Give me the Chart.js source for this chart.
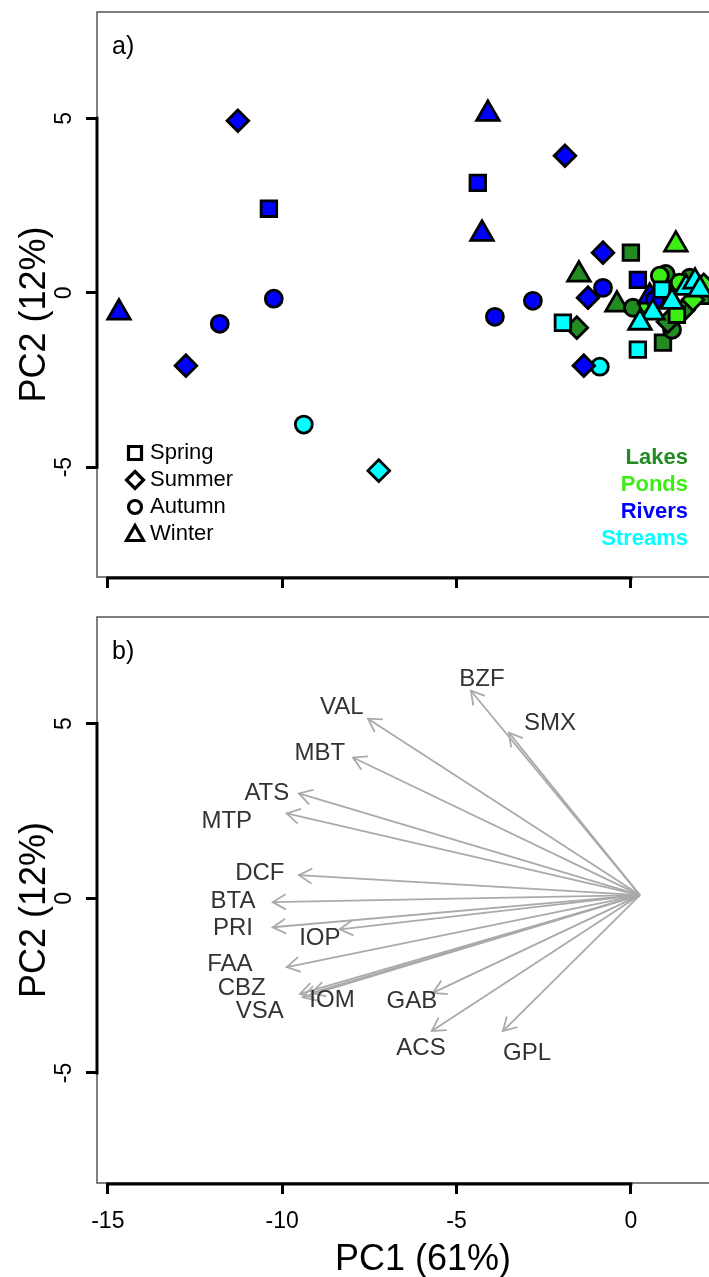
<!DOCTYPE html>
<html>
<head>
<meta charset="utf-8">
<script src="https://cdn.jsdelivr.net/npm/chart.js@4.4.1/dist/chart.umd.min.js"></script>
<style>
  html, body { margin: 0; padding: 0; background: #fff; overflow: hidden; }
  #top { position: absolute; left: 0; top: 0; }
  #bot { position: absolute; left: 0; top: 600px; }
</style>
</head>
<body>
<canvas id="top" width="709" height="600"></canvas>
<canvas id="bot" width="709" height="680"></canvas>
<script>
// axis ranges and ticks (same for both panels)
const xTicks = [-15, -10, -5, 0];
const yTicks = [-5, 0, 5];
const xRange = [-15.31, 2.24];
const yRange = [-8.15, 8.05];

// panel a) - sample scores
const habitat = [
  "Lakes", "Lakes", "Lakes", "Lakes", "Lakes", "Lakes", "Lakes", "Lakes", "Lakes", "Lakes", "Lakes", "Lakes",
  "Ponds", "Ponds", "Ponds", "Ponds", "Ponds", "Ponds", "Ponds",
  "Rivers", "Rivers", "Rivers", "Rivers", "Rivers", "Rivers", "Rivers", "Rivers", "Rivers", "Rivers",
  "Rivers", "Rivers", "Rivers", "Rivers", "Rivers", "Rivers", "Rivers", "Rivers",
  "Streams", "Streams", "Streams", "Streams", "Streams", "Streams", "Streams", "Streams", "Streams",
  "Streams", "Streams", "Streams",
  "Rivers"
];
const season = [
  "Spring", "Winter", "Winter", "Summer", "Spring", "Autumn", "Summer", "Autumn", "Autumn", "Autumn", "Spring", "Summer",
  "Winter", "Spring", "Autumn", "Autumn", "Summer", "Summer", "Autumn",
  "Winter", "Summer", "Spring", "Autumn", "Autumn", "Summer", "Winter", "Spring", "Winter", "Summer",
  "Autumn", "Autumn", "Summer", "Autumn", "Summer", "Spring", "Winter", "Autumn",
  "Autumn", "Summer", "Spring", "Autumn", "Spring", "Winter", "Winter", "Winter", "Winter",
  "Spring", "Winter", "Winter",
  "Summer"
];
const pc1 = [
  0.00, -1.49, -0.40, -1.55, 0.92, 1.18, 1.06, 0.06, 1.00, 1.69, 2.04, 1.52,
  1.29, 1.32, 0.83, 1.40, 1.78, 2.09, 0.49,
  -14.68, -11.27, -10.38, -10.24, -11.79, -12.76, -4.10, -4.39, -4.27, -1.89,
  -3.90, -2.81, -0.80, -0.80, -1.23, 0.20, 0.54, 0.69,
  -9.38, -7.23, -1.95, -0.89, 0.89, 1.58, 1.18, 0.63, 0.26,
  0.20, 1.84, 1.98,
  -1.35
];
const pc2 = [
  1.15, 0.52, -0.34, -1.00, -1.43, -1.06, -0.83, -0.43, 0.54, 0.43, -0.09, -0.49,
  1.38, -0.63, 0.49, 0.29, -0.20, 0.23, -0.34,
  -0.57, 4.93, 2.41, -0.17, -0.89, -2.09, 5.13, 3.15, 1.69, 3.93,
  -0.69, -0.23, 1.15, 0.14, -0.14, 0.37, -0.11, -0.20,
  -3.78, -5.10, -0.86, -2.12, 0.09, 0.14, -0.26, -0.57, -0.86,
  -1.63, 0.32, 0.09,
  -2.09
];

// panel b) - variable loadings
const loadNames = ["BZF", "SMX", "VAL", "MBT", "ATS", "MTP", "DCF", "BTA", "PRI", "IOP", "FAA", "CBZ", "VSA", "IOM", "GAB", "ACS", "GPL"];
const loadPC1 = [-4.59, -3.50, -7.54, -7.97, -9.52, -9.87, -9.52, -10.27, -10.27, -8.35, -9.87, -9.49, -9.41, -9.15, -5.68, -5.71, -3.67];
const loadPC2 = [5.94, 4.74, 5.14, 4.03, 3.00, 2.43, 0.66, -0.11, -0.83, -0.89, -1.97, -2.74, -2.83, -2.71, -2.71, -3.80, -3.80];
const labelPC1 = [-4.27, -2.32, -8.29, -8.92, -10.44, -11.59, -10.64, -11.41, -11.41, -8.92, -11.50, -11.16, -10.64, -8.57, -6.28, -6.02, -2.98];
const labelPC2 = [6.26, 5.00, 5.46, 4.14, 3.00, 2.20, 0.71, -0.09, -0.86, -1.14, -1.89, -2.57, -3.23, -2.91, -2.94, -4.29, -4.43];
const loadOrigin = [0.26, 0.09];

const habitatNames = ["Lakes", "Ponds", "Rivers", "Streams"];
const seasonNames = ["Spring", "Summer", "Autumn", "Winter"];

const FONT = '"Liberation Sans", Arial, sans-serif';
const habitatColor = { Lakes: "#228B22", Ponds: "#3CEE14", Rivers: "#0000FF", Streams: "#00FFFF" };
const seasonStyle = { Spring: "rect", Summer: "rectRot", Autumn: "circle", Winter: "triangle" };
const seasonRadius = { Spring: 11, Summer: 10.8, Autumn: 8.5, Winter: 13 };

function rScales(withXLabels, xAxisHeight, yTitle) {
  const tickGrid = { drawOnChartArea: false, drawTicks: true, tickLength: 11, color: "#000", tickColor: "#000", lineWidth: 3, tickWidth: 3 };
  return {
    x: {
      type: "linear", min: xRange[0], max: xRange[1],
      afterBuildTicks: s => { s.ticks = xTicks.map(v => ({ value: v })); },
      afterFit: s => { s.height = xAxisHeight; s.paddingLeft = 0; s.paddingRight = 0; },
      grid: tickGrid,
      border: { display: false },
      ticks: { display: withXLabels, padding: 14, color: "#000", autoSkip: false, maxRotation: 0,
               font: { family: FONT, size: 23 }, callback: v => String(v) },
      title: { display: withXLabels, text: "    PC1 (61%)", color: "#000", padding: 0,
               font: { family: FONT, size: 36, lineHeight: 1 } }
    },
    y: {
      type: "linear", min: yRange[0], max: yRange[1],
      afterBuildTicks: s => { s.ticks = yTicks.map(v => ({ value: v })); },
      afterFit: s => { s.width = 97; s.paddingTop = 0; s.paddingBottom = 0; },
      grid: tickGrid,
      border: { display: false },
      ticks: { padding: 11, color: "#000", minRotation: 90, maxRotation: 90, crossAlign: "center",
               font: { family: FONT, size: 23 }, callback: v => String(v) },
      title: { display: true, text: yTitle, color: "#000", padding: { top: 17, bottom: 0 },
               font: { family: FONT, size: 36, lineHeight: 1 } }
    }
  };
}

// frame, heavy axis lines, panel letter
const rFrame = {
  id: "rFrame",
  beforeDatasetsDraw(chart, args, opts) {
    const { ctx, chartArea: a, scales: { x, y } } = chart;
    ctx.save();
    ctx.strokeStyle = "#555";
    ctx.lineWidth = 1.5;
    ctx.beginPath();
    ctx.moveTo(a.right + 5, a.top);
    ctx.lineTo(a.left, a.top);
    ctx.lineTo(a.left, a.bottom);
    ctx.lineTo(a.right + 5, a.bottom);
    ctx.stroke();

    ctx.strokeStyle = "#000";
    ctx.lineWidth = 3;
    ctx.beginPath();
    ctx.moveTo(x.getPixelForValue(xTicks[0]) - 1.5, a.bottom + 1);
    ctx.lineTo(x.getPixelForValue(xTicks[xTicks.length - 1]) + 1.5, a.bottom + 1);
    ctx.moveTo(a.left, y.getPixelForValue(yTicks[0]) + 1.5);
    ctx.lineTo(a.left, y.getPixelForValue(yTicks[yTicks.length - 1]) - 1.5);
    ctx.stroke();

    ctx.fillStyle = "#000";
    ctx.font = "25px " + FONT;
    ctx.textAlign = "left";
    ctx.textBaseline = "middle";
    ctx.fillText(opts.letter, a.left + 15, a.top + 35);
    ctx.restore();
  }
};

function drawSymbol(ctx, style, x, y) {
  ctx.beginPath();
  if (style === "rect") {
    ctx.rect(x - 6.5, y - 6.5, 13, 13);
  } else if (style === "rectRot") {
    ctx.moveTo(x, y - 8.5); ctx.lineTo(x + 8.5, y); ctx.lineTo(x, y + 8.5); ctx.lineTo(x - 8.5, y); ctx.closePath();
  } else if (style === "circle") {
    ctx.arc(x, y, 6.5, 0, Math.PI * 2);
  } else {
    ctx.moveTo(x, y - 8.5); ctx.lineTo(x + 8.5, y + 6.5); ctx.lineTo(x - 8.5, y + 6.5); ctx.closePath();
  }
  ctx.stroke();
}

// legends of panel a)
const scoreLegends = {
  id: "scoreLegends",
  afterDatasetsDraw(chart) {
    const { ctx, chartArea: a } = chart;
    ctx.save();
    ctx.strokeStyle = "#000";
    ctx.lineWidth = 3.2;
    ctx.fillStyle = "#000";
    ctx.font = "22px " + FONT;
    ctx.textAlign = "left";
    ctx.textBaseline = "middle";
    seasonNames.forEach((s, i) => {
      const yy = a.top + 441 + i * 27;
      drawSymbol(ctx, seasonStyle[s], a.left + 38, yy);
      ctx.fillText(s, a.left + 53, yy);
    });
    ctx.font = "bold 22px " + FONT;
    ctx.textAlign = "right";
    habitatNames.forEach((h, i) => {
      ctx.fillStyle = habitatColor[h];
      ctx.fillText(h, 688, a.top + 446 + i * 27);
    });
    ctx.restore();
  }
};

// arrow heads and names of panel b)
const loadArrows = {
  id: "loadArrows",
  afterDatasetsDraw(chart) {
    const { ctx, scales: { x, y } } = chart;
    ctx.save();
    ctx.strokeStyle = "#AAAAAA";
    ctx.lineWidth = 1.8;
    chart.data.datasets.forEach((ds, i) => {
      const pts = chart.getDatasetMeta(i).data;
      const p0 = pts[0], p1 = pts[1];
      const ang = Math.atan2(p1.y - p0.y, p1.x - p0.x);
      const len = 15, spread = Math.PI / 6;
      ctx.beginPath();
      ctx.moveTo(p1.x - len * Math.cos(ang - spread), p1.y - len * Math.sin(ang - spread));
      ctx.lineTo(p1.x, p1.y);
      ctx.lineTo(p1.x - len * Math.cos(ang + spread), p1.y - len * Math.sin(ang + spread));
      ctx.stroke();
    });
    ctx.fillStyle = "#333";
    ctx.font = "24px " + FONT;
    ctx.textAlign = "center";
    ctx.textBaseline = "middle";
    loadNames.forEach((n, i) => {
      ctx.fillText(n, x.getPixelForValue(labelPC1[i]), y.getPixelForValue(labelPC2[i]));
    });
    ctx.restore();
  }
};

new Chart(document.getElementById("top"), {
  type: "scatter",
  data: {
    datasets: [{
      data: pc1.map((v, i) => ({ x: v, y: pc2[i] })),
      backgroundColor: c => habitatColor[habitat[c.dataIndex]],
      borderColor: "#000",
      borderWidth: 2.8,
      pointStyle: c => seasonStyle[season[c.dataIndex]],
      pointRadius: c => seasonRadius[season[c.dataIndex]],
      clip: false
    }]
  },
  options: {
    responsive: false,
    animation: false,
    events: [],
    layout: { autoPadding: false, padding: { top: 12, left: 0, right: 0, bottom: 0 } },
    scales: rScales(false, 23, "PC2 (12%)    "),
    plugins: {
      legend: { display: false },
      tooltip: { enabled: false },
      rFrame: { letter: "a)" }
    }
  },
  plugins: [rFrame, scoreLegends]
});

new Chart(document.getElementById("bot"), {
  type: "scatter",
  data: {
    datasets: loadNames.map((n, i) => ({
      label: n,
      data: [{ x: loadOrigin[0], y: loadOrigin[1] }, { x: loadPC1[i], y: loadPC2[i] }],
      showLine: true,
      borderColor: "#AAAAAA",
      borderWidth: 1.8,
      pointRadius: 0
    }))
  },
  options: {
    responsive: false,
    animation: false,
    events: [],
    layout: { autoPadding: false, padding: { top: 17, left: 0, right: 0, bottom: 2 } },
    scales: rScales(true, 95, "PC2 (12%)  "),
    plugins: {
      legend: { display: false },
      tooltip: { enabled: false },
      rFrame: { letter: "b)" }
    }
  },
  plugins: [rFrame, loadArrows]
});
</script>
</body>
</html>
